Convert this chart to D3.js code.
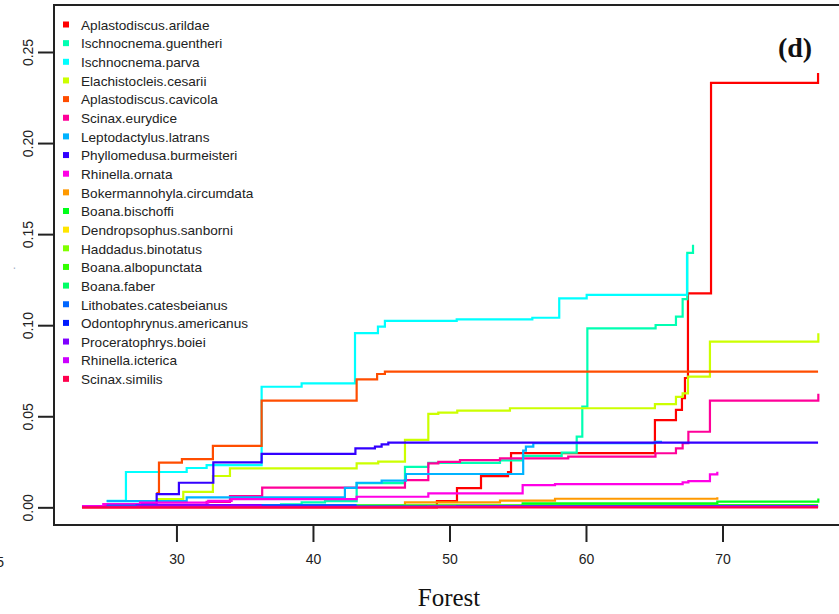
<!DOCTYPE html>
<html>
<head>
<meta charset="utf-8">
<script src="https://cdn.jsdelivr.net/npm/d3@7"></script>
<style>
  body { margin: 0; background: #fff; }
  svg { display: block; }
</style>
</head>
<body>
<div id="chart"></div>
<script>
// species in legend / drawing order
var species = ["Aplastodiscus.arildae", "Ischnocnema.guentheri", "Ischnocnema.parva", "Elachistocleis.cesarii",
  "Aplastodiscus.cavicola", "Scinax.eurydice", "Leptodactylus.latrans", "Phyllomedusa.burmeisteri",
  "Rhinella.ornata", "Bokermannohyla.circumdata", "Boana.bischoffi", "Dendropsophus.sanborni",
  "Haddadus.binotatus", "Boana.albopunctata", "Boana.faber", "Lithobates.catesbeianus",
  "Odontophrynus.americanus", "Proceratophrys.boiei", "Rhinella.icterica", "Scinax.similis"];

var colors = ["#FF0000", "#00FFB2", "#00FFFF", "#CCFF00", "#FF4D00", "#FF0099", "#00B3FF", "#3300FF",
  "#FF00E6", "#FF9900", "#00FF19", "#FFE500", "#80FF00", "#33FF00", "#00FF66", "#0066FF",
  "#001AFF", "#7F00FF", "#CC00FF", "#FF004D"];

// cumulative step values [forest, value]
var arildae = [[23.08, 0.000], [49.08, 0.0034], [50.55, 0.0105], [52.31, 0.0171], [54.29, 0.0193], [54.51, 0.0298],
  [65.05, 0.0479], [66.59, 0.0535], [67.03, 0.0600], [67.25, 0.0710], [67.47, 0.1175], [69.16, 0.2330], [77.0, 0.2385]];
var guentheri = [[37.58, 0.0016], [39.17, 0.0027], [40.88, 0.0034], [43.2, 0.0133], [46.74, 0.0222], [48.45, 0.0244],
  [53.7, 0.0258], [55.38, 0.0282], [58.22, 0.0300], [59.32, 0.0388], [59.73, 0.0553], [60.1, 0.0983], [65.1, 0.1001],
  [66.59, 0.1047], [67.08, 0.1143], [67.42, 0.1397], [67.84, 0.1441]];
var parva = [[24.89, 0.0036], [26.30, 0.0194], [30.75, 0.0216], [32.21, 0.0232], [36.24, 0.0662], [39.17, 0.0681],
  [43.08, 0.0957], [44.76, 0.0992], [45.27, 0.1024], [50.53, 0.1032], [56.07, 0.1041], [58.04, 0.1147],
  [60.05, 0.1166], [67.40, 0.1390]];
var cesarii = [[28.55, 0.0045], [30.5, 0.0085], [32.67, 0.0172], [33.92, 0.0214], [43.2, 0.0241], [44.78, 0.0251],
  [46.74, 0.0370], [48.45, 0.0513], [49.18, 0.0520], [50.57, 0.0531], [54.43, 0.0544], [65.05, 0.0567],
  [66.59, 0.0607], [67.08, 0.0626], [67.47, 0.0718], [69.08, 0.0910], [77.02, 0.0956]];
var cavicola = [[28.53, 0.0078], [28.72, 0.0245], [30.4, 0.0265], [32.67, 0.0337], [36.24, 0.0586], [43.2, 0.0703],
  [44.7, 0.0732], [45.27, 0.0745], [77.0, 0.0745]];
var eurydice = [[23.08, 0.0007], [32.21, 0.0030], [33.92, 0.0062], [36.28, 0.0108], [46.74, 0.0149], [48.45, 0.0241],
  [49.18, 0.0250], [50.77, 0.0259], [53.7, 0.0269], [58.7, 0.0278], [65.09, 0.0297], [66.59, 0.0324],
  [67.08, 0.0352], [67.5, 0.0415], [69.08, 0.0586], [77.02, 0.0623]];
var latrans = [[24.89, 0.0034], [30.75, 0.0055], [42.34, 0.0107], [43.2, 0.0135], [45.03, 0.0147], [46.81, 0.0183],
  [55.4, 0.0311], [55.6, 0.0333], [56.14, 0.0352], [65.05, 0.0360], [65.57, 0.0360]];
var burmeisteri = [[24.89, 0.0010], [27.08, 0.0018], [28.55, 0.0073], [30.18, 0.0135], [32.7, 0.0247],
  [36.24, 0.0293], [43.11, 0.0324], [44.54, 0.0333], [45.03, 0.0346], [45.52, 0.0355], [77.0, 0.0355]];
var ornata = [[23.08, 0.0007], [24.64, 0.0018], [27.33, 0.0026], [32.33, 0.0036], [34.04, 0.0045], [43.2, 0.0058],
  [48.45, 0.0077], [55.36, 0.0122], [57.73, 0.0127], [67.08, 0.0137], [67.5, 0.0144], [69.08, 0.0181], [69.62, 0.0195]];
var circumdata = [[28.55, 0.0007], [46.74, 0.0027], [53.7, 0.0037], [57.73, 0.0047], [69.62, 0.0055]];
var bischoffi = [[42.34, 0.0011], [55.36, 0.0022], [69.62, 0.0031], [77.02, 0.0049]];
var sanborni = [[28.55, 0.0003], [46.74, 0.0008], [69.62, 0.0010]];
var binotatus = [[37.58, 0.0002], [60.1, 0.0004], [77.0, 0.0004]];
var albopunctata = [[42.34, 0.0008], [55.36, 0.0012], [77.0, 0.0012]];
var faber = [[37.58, 0.0004], [55.36, 0.0008], [77.0, 0.0008]];
var catesbeianus = [[24.89, 0.0010], [27.08, 0.0012], [43.2, 0.0012]];
var americanus = [[27.08, 0.0004], [50.55, 0.0006], [77.0, 0.0006]];
var boiei = [[27.08, 0.0010], [28.55, 0.0012], [36.24, 0.0012]];
var icterica = [[23.08, 0.0002], [48.45, 0.0004], [77.0, 0.0004]];
var similis = [[23.08, 0.0000], [77.0, 0.0000]];

var seriesValues = [arildae, guentheri, parva, cesarii, cavicola, eurydice, latrans, burmeisteri, ornata,
  circumdata, bischoffi, sanborni, binotatus, albopunctata, faber, catesbeianus, americanus, boiei, icterica, similis];

var xTicks = [30, 40, 50, 60, 70];
var yTicks = [0.00, 0.05, 0.10, 0.15, 0.20, 0.25];

// set the dimensions
var width = 839;
var height = 614;

var svg = d3.select("#chart")
  .append("svg")
  .attr("width", width)
  .attr("height", height);

var x = d3.scaleLinear().domain([21.03, 79.34]).range([54, 850]);
var y = d3.scaleLinear().domain([-0.0097, 0.2758]).range([525, 5]);

// series lines (step after, like R type="s")
var line = d3.line()
  .x(d => x(d[0]))
  .y(d => y(d[1]))
  .curve(d3.curveStepAfter);

svg.append("g")
  .selectAll("path")
  .data(seriesValues)
  .enter()
  .append("path")
  .attr("d", d => line(d))
  .attr("fill", "none")
  .attr("stroke", (d, i) => colors[i])
  .attr("stroke-width", 2.2);

// plot box
svg.append("rect")
  .attr("x", 54)
  .attr("y", 5)
  .attr("width", 796)
  .attr("height", 520)
  .attr("fill", "none")
  .attr("stroke", "#222")
  .attr("stroke-width", 2);

// x axis
var xAxis = svg.append("g")
  .attr("transform", "translate(0,525)")
  .call(d3.axisBottom(x).tickValues(xTicks).tickSize(17).tickPadding(12).tickFormat(d3.format("d")));
xAxis.select(".domain").remove();
xAxis.selectAll("line").attr("stroke", "#222").attr("stroke-width", 2);
xAxis.selectAll("text")
  .attr("font-family", "Liberation Sans, Arial, sans-serif")
  .attr("font-size", "14px")
  .attr("fill", "#222");

// y axis
var yAxis = svg.append("g")
  .attr("transform", "translate(54,0)")
  .call(d3.axisLeft(y).tickValues(yTicks).tickSize(16).tickFormat(d3.format(".2f")));
yAxis.select(".domain").remove();
yAxis.selectAll("line").attr("stroke", "#222").attr("stroke-width", 2);
yAxis.selectAll("text")
  .attr("x", null)
  .attr("dy", null)
  .attr("text-anchor", "middle")
  .attr("transform", "translate(-21,0) rotate(-90)")
  .attr("font-family", "Liberation Sans, Arial, sans-serif")
  .attr("font-size", "14px")
  .attr("fill", "#222");

// legend
var legend = svg.append("g")
  .selectAll("g")
  .data(species)
  .enter()
  .append("g")
  .attr("transform", (d, i) => "translate(0," + (25 + i * 18.65) + ")");
legend.append("rect")
  .attr("x", 63)
  .attr("y", -3.5)
  .attr("width", 6)
  .attr("height", 6)
  .attr("fill", (d, i) => colors[i]);
legend.append("text")
  .attr("x", 81)
  .attr("dy", "0.35em")
  .attr("font-family", "Liberation Sans, Arial, sans-serif")
  .attr("font-size", "13.6px")
  .attr("fill", "#222")
  .text(d => d);

// labels
svg.append("text")
  .attr("x", 449)
  .attr("y", 606)
  .attr("text-anchor", "middle")
  .attr("font-family", "Liberation Serif, Times New Roman, serif")
  .attr("font-size", "25px")
  .attr("fill", "#111")
  .text("Forest");

svg.append("text")
  .attr("x", 795)
  .attr("y", 57)
  .attr("text-anchor", "middle")
  .attr("font-family", "Liberation Serif, Times New Roman, serif")
  .attr("font-weight", "bold")
  .attr("font-size", "28px")
  .attr("fill", "#111")
  .text("(d)");

// bits of neighbouring panel / y label
svg.append("text")
  .attr("x", 4)
  .attr("y", 567)
  .attr("text-anchor", "end")
  .attr("font-family", "Liberation Sans, Arial, sans-serif")
  .attr("font-size", "14px")
  .attr("fill", "#222")
  .text("5");

svg.append("text")
  .attr("transform", "translate(15,268) rotate(-90)")
  .attr("text-anchor", "middle")
  .attr("font-family", "Liberation Sans, Arial, sans-serif")
  .attr("font-size", "10px")
  .attr("fill", "#6f86a8")
  .text(".");
</script>
</body>
</html>
